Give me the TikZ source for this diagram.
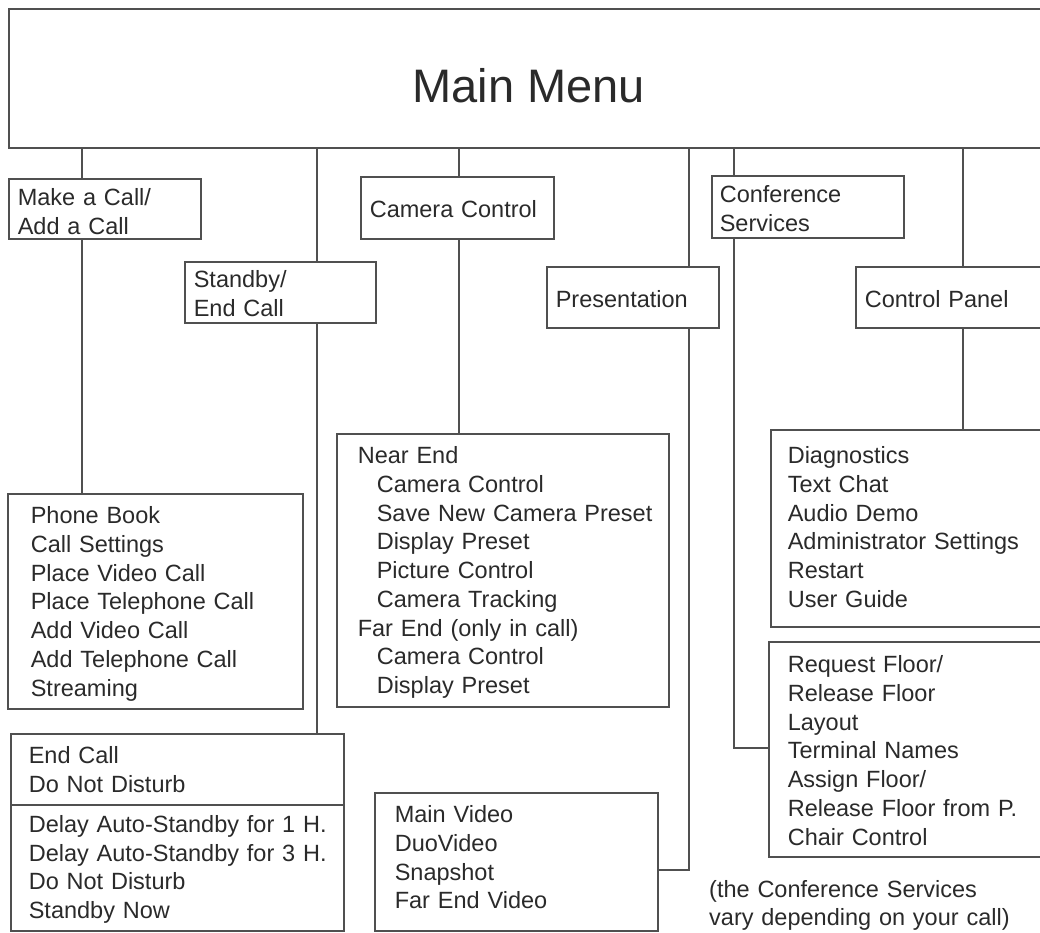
\documentclass[tikz,border=0pt]{standalone}
\usepackage{fontspec}
\setmainfont{Liberation Sans}
\definecolor{linegray}{HTML}{505050}
\definecolor{txtgray}{HTML}{2A2A2A}
\begin{document}
\begin{tikzpicture}[x=1pt,y=-1pt,
  menubox/.style={draw=linegray, line width=1.6pt, anchor=north west, inner sep=0pt,
    text=txtgray, font=\fontsize{23.5}{28.7}\selectfont, align=left, text height=25pt},
  conn/.style={draw=linegray, line width=1.6pt},
  note/.style={text=txtgray, font=\fontsize{23.5}{28.7}\selectfont, align=left, inner sep=0pt, anchor=base west}
]
\useasboundingbox (0,0) rectangle (1040,933);
\clip (0,0) rectangle (1040,933);

% main menu
\node[menubox, font=\fontsize{47}{50}\selectfont, align=center, minimum width=1040pt, minimum height=139pt,
  text height=60pt, text depth=11pt] (main) at (8,8) {Main Menu};

% first level
\node[menubox, text width=192pt, minimum height=60pt, text depth=31pt] (make) at (8,178)
  {\hspace*{9pt}Make a Call/\\\hspace*{9pt}Add a Call};
\node[menubox, text width=191pt, minimum height=61pt, text depth=34pt] (standby) at (184,261)
  {\hspace*{9pt}Standby/\\\hspace*{9pt}End Call};
\node[menubox, text width=193pt, minimum height=62pt, text depth=5pt] (camctl) at (360,176)
  {\hspace*{9pt}Camera Control};
\node[menubox, text width=172pt, minimum height=61pt, text depth=4pt] (pres) at (546,266)
  {\hspace*{9pt}Presentation};
\node[menubox, text width=192pt, minimum height=62pt, text depth=33pt] (conf) at (711,175)
  {\hspace*{8pt}Conference\\\hspace*{8pt}Services};
\node[menubox, text width=193pt, minimum height=61pt, text depth=4pt] (ctrl) at (855,266)
  {\hspace*{9pt}Control Panel};

% second level
\node[menubox, text width=295pt, minimum height=215pt, text depth=180pt] (phone) at (7,493)
  {\hspace*{23pt}Phone Book\\\hspace*{23pt}Call Settings\\\hspace*{23pt}Place Video Call\\
   \hspace*{23pt}Place Telephone Call\\\hspace*{23pt}Add Video Call\\
   \hspace*{23pt}Add Telephone Call\\\hspace*{23pt}Streaming};
\node[menubox, text width=333pt, minimum height=197pt, text depth=162pt] (endcall) at (10,733)
  {\hspace*{18pt}End Call\\\hspace*{18pt}Do Not Disturb\\[11.3pt]
   \hspace*{18pt}Delay Auto-Standby for 1 H.\\\hspace*{18pt}Delay Auto-Standby for 3 H.\\
   \hspace*{18pt}Do Not Disturb\\\hspace*{18pt}Standby Now};
\node[menubox, text width=332pt, minimum height=273pt, text depth=238pt] (nearend) at (336,433)
  {\hspace*{21pt}Near End\\\hspace*{40pt}Camera Control\\\hspace*{40pt}Save New Camera Preset\\
   \hspace*{40pt}Display Preset\\\hspace*{40pt}Picture Control\\\hspace*{40pt}Camera Tracking\\
   \hspace*{21pt}Far End (only in call)\\\hspace*{40pt}Camera Control\\\hspace*{40pt}Display Preset};
\node[menubox, text width=283pt, minimum height=138pt, text depth=103pt] (mainvideo) at (374,792)
  {\hspace*{20pt}Main Video\\\hspace*{20pt}DuoVideo\\\hspace*{20pt}Snapshot\\\hspace*{20pt}Far End Video};
\node[menubox, text width=278pt, minimum height=197pt, text depth=154pt] (diag) at (770,429)
  {\hspace*{17pt}Diagnostics\\\hspace*{17pt}Text Chat\\\hspace*{17pt}Audio Demo\\
   \hspace*{17pt}Administrator Settings\\\hspace*{17pt}Restart\\\hspace*{17pt}User Guide};
\node[menubox, text width=280pt, minimum height=215pt, text depth=178pt] (reqfloor) at (768,641)
  {\hspace*{19pt}Request Floor/\\\hspace*{19pt}Release Floor\\\hspace*{19pt}Layout\\
   \hspace*{19pt}Terminal Names\\\hspace*{19pt}Assign Floor/\\\hspace*{19pt}Release Floor from P.\\
   \hspace*{19pt}Chair Control};

% separator in end call box
\draw[conn] ([yshift=-72pt]endcall.north west) -- ([yshift=-72pt]endcall.north east);

% note
\node[note, text width=330pt] (notetext) at (709,897)
  {(the Conference Services\\vary depending on your call)};

% join points
\coordinate (mvjoin) at ([yshift=-78pt]mainvideo.north east);
\coordinate (rfjoin) at ([yshift=-107pt]reqfloor.north west);

% connectors
\draw[conn] ([xshift=74pt]make.north west) -- ([xshift=74pt]make.north west |- main.south);
\draw[conn] ([xshift=74pt]make.south west) -- ([xshift=74pt]make.south west |- phone.north);
\draw[conn] ([xshift=133pt]standby.north west) -- ([xshift=133pt]standby.north west |- main.south);
\draw[conn] ([xshift=133pt]standby.south west) -- ([xshift=133pt]standby.south west |- endcall.north);
\draw[conn] ([xshift=99pt]camctl.north west) -- ([xshift=99pt]camctl.north west |- main.south);
\draw[conn] ([xshift=99pt]camctl.south west) -- ([xshift=99pt]camctl.south west |- nearend.north);
\draw[conn] ([xshift=143pt]pres.north west) -- ([xshift=143pt]pres.north west |- main.south);
\draw[conn] ([xshift=143pt]pres.south west) -- ([xshift=143pt]pres.south west |- mvjoin) -- (mvjoin);
\draw[conn] ([xshift=23pt]conf.north west) -- ([xshift=23pt]conf.north west |- main.south);
\draw[conn] ([xshift=23pt]conf.south west) -- ([xshift=23pt]conf.south west |- rfjoin) -- (rfjoin);
\draw[conn] ([xshift=108pt]ctrl.north west) -- ([xshift=108pt]ctrl.north west |- main.south);
\draw[conn] ([xshift=108pt]ctrl.south west) -- ([xshift=108pt]ctrl.south west |- diag.north);
\end{tikzpicture}
\end{document}
